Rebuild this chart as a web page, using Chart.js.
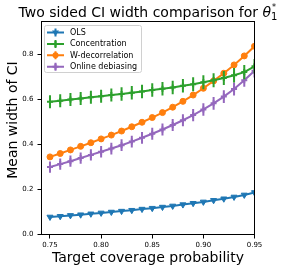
<!DOCTYPE html>
<html>
<head>
<meta charset="utf-8">
<script src="https://cdn.jsdelivr.net/npm/chart.js@4.4.0/dist/chart.umd.min.js"></script>
<style>
  html, body { margin: 0; padding: 0; background: #fff; }
  #wrap { width: 291px; height: 271px; }
</style>
</head>
<body>
<div id="wrap"><canvas id="chart" width="291" height="271"></canvas></div>
<script>
// target coverage levels (x axis)
const coverage = [0.75, 0.76, 0.77, 0.78, 0.79, 0.80, 0.81, 0.82, 0.83, 0.84, 0.85,
                  0.86, 0.87, 0.88, 0.89, 0.90, 0.91, 0.92, 0.93, 0.94, 0.95];

// mean CI widths
const olsWidth    = [0.078, 0.081, 0.085, 0.088, 0.092, 0.096, 0.100, 0.104, 0.108, 0.113, 0.117,
                     0.122, 0.127, 0.133, 0.139, 0.145, 0.152, 0.159, 0.167, 0.176, 0.187];
const concWidth   = [0.590, 0.595, 0.600, 0.605, 0.610, 0.615, 0.620, 0.625, 0.630, 0.636, 0.642,
                     0.648, 0.654, 0.661, 0.668, 0.677, 0.686, 0.696, 0.708, 0.722, 0.748];
const wdecWidth   = [0.345, 0.360, 0.376, 0.392, 0.408, 0.425, 0.442, 0.460, 0.479, 0.499, 0.520,
                     0.542, 0.566, 0.592, 0.620, 0.650, 0.683, 0.717, 0.754, 0.794, 0.837];
const onlineWidth = [0.300, 0.313, 0.326, 0.340, 0.354, 0.368, 0.382, 0.397, 0.413, 0.430, 0.448,
                     0.467, 0.487, 0.508, 0.531, 0.556, 0.583, 0.613, 0.647, 0.686, 0.728];

// half lengths of the error bars
const olsErr    = [0.004, 0.004, 0.004, 0.004, 0.004, 0.004, 0.004, 0.004, 0.004, 0.004, 0.005,
                   0.005, 0.005, 0.005, 0.005, 0.005, 0.005, 0.006, 0.006, 0.006, 0.006];
const concErr   = [0.029, 0.029, 0.029, 0.029, 0.029, 0.029, 0.029, 0.030, 0.030, 0.030, 0.030,
                   0.030, 0.030, 0.030, 0.031, 0.031, 0.031, 0.031, 0.032, 0.032, 0.032];
const wdecErr   = [0.005, 0.005, 0.005, 0.005, 0.005, 0.005, 0.005, 0.005, 0.005, 0.006, 0.006,
                   0.006, 0.006, 0.006, 0.006, 0.006, 0.006, 0.007, 0.007, 0.007, 0.007];
const onlineErr = [0.025, 0.025, 0.025, 0.025, 0.025, 0.026, 0.026, 0.026, 0.026, 0.026, 0.027,
                   0.027, 0.027, 0.027, 0.027, 0.028, 0.028, 0.028, 0.029, 0.029, 0.030];

const seriesNames = ["OLS", "Concentration", "W-decorrelation", "Online debiasing"];
const xTicks = [0.75, 0.80, 0.85, 0.90, 0.95];
const yTicks = [0.0, 0.2, 0.4, 0.6, 0.8];

const FONT = '"DejaVu Sans", "Liberation Sans", sans-serif';

const pts = arr => coverage.map((x, i) => ({ x: x, y: arr[i] }));

// draws vertical error bars under each dataset
const errorBars = {
  id: "errorBars",
  beforeDatasetDraw(chart, args) {
    const ds = chart.data.datasets[args.index];
    if (!ds.errors) return;
    const { ctx, chartArea: a, scales: { x, y } } = chart;
    ctx.save();
    ctx.beginPath();
    ctx.rect(a.left, a.top, a.right - a.left, a.bottom - a.top);
    ctx.clip();
    ctx.strokeStyle = ds.borderColor;
    ctx.lineWidth = 2;
    ds.data.forEach((p, i) => {
      const px = x.getPixelForValue(p.x);
      ctx.beginPath();
      ctx.moveTo(px, y.getPixelForValue(p.y - ds.errors[i]));
      ctx.lineTo(px, y.getPixelForValue(p.y + ds.errors[i]));
      ctx.stroke();
    });
    ctx.restore();
  }
};

function marker(ctx, kind, x, y, color) {
  ctx.save();
  ctx.fillStyle = color;
  ctx.strokeStyle = color;
  ctx.beginPath();
  if (kind === "tri") {
    ctx.moveTo(x - 3.5, y - 2);
    ctx.lineTo(x + 3.5, y - 2);
    ctx.lineTo(x, y + 3.5);
    ctx.closePath();
    ctx.fill();
  } else if (kind === "circle") {
    ctx.arc(x, y, 3, 0, Math.PI * 2);
    ctx.fill();
  } else {
    ctx.lineWidth = 2;
    ctx.moveTo(x - 3, y); ctx.lineTo(x + 3, y);
    ctx.moveTo(x, y - 3); ctx.lineTo(x, y + 3);
    ctx.stroke();
  }
  ctx.restore();
}

// frame, legend, y label and title
const decor = {
  id: "decor",
  afterDatasetsDraw(chart) {
    const { ctx, chartArea: a } = chart;
    ctx.save();
    ctx.strokeStyle = "#000";
    ctx.lineWidth = 1;
    ctx.strokeRect(a.left, a.top, a.right - a.left, a.bottom - a.top);

    // legend box
    const bx = 44.5, by = 25.5, bw = 97, bh = 47, r = 2;
    ctx.beginPath();
    ctx.moveTo(bx + r, by);
    ctx.arcTo(bx + bw, by, bx + bw, by + bh, r);
    ctx.arcTo(bx + bw, by + bh, bx, by + bh, r);
    ctx.arcTo(bx, by + bh, bx, by, r);
    ctx.arcTo(bx, by, bx + bw, by, r);
    ctx.closePath();
    ctx.fillStyle = "rgba(255,255,255,0.8)";
    ctx.fill();
    ctx.strokeStyle = "#d0d0d0";
    ctx.stroke();

    const kinds = ["tri", "cross", "circle", "cross"];
    chart.data.datasets.forEach((ds, i) => {
      const ry = 32.5 + i * 11.4;
      ctx.strokeStyle = ds.borderColor;
      ctx.lineWidth = 2;
      ctx.beginPath();
      ctx.moveTo(47, ry); ctx.lineTo(64, ry);
      ctx.moveTo(55.5, ry - 4); ctx.lineTo(55.5, ry + 4);
      ctx.stroke();
      marker(ctx, kinds[i], 55.5, ry, ds.borderColor);
      ctx.fillStyle = "#000";
      ctx.font = "8px " + FONT;
      ctx.textBaseline = "middle";
      ctx.textAlign = "left";
      ctx.fillText(ds.label, 70, ry + 0.5);
    });

    // y axis label
    ctx.save();
    ctx.translate(13, 120);
    ctx.rotate(-Math.PI / 2);
    ctx.fillStyle = "#000";
    ctx.font = "14px " + FONT;
    ctx.textAlign = "center";
    ctx.textBaseline = "middle";
    ctx.fillText("Mean width of CI", 0, 0);
    ctx.restore();

    // title with theta_1^*
    const main = "Two sided CI width comparison for ";
    const cx = (a.left + a.right) / 2, base = 17;
    ctx.font = "14px " + FONT;
    const w1 = ctx.measureText(main).width;
    ctx.font = "italic 14px " + FONT;
    const wt = ctx.measureText("\u03b8").width;
    ctx.font = "10px " + FONT;
    const ws = ctx.measureText("1").width;
    let sx = cx - (w1 + wt + ws) / 2;
    ctx.fillStyle = "#000";
    ctx.textAlign = "left";
    ctx.textBaseline = "alphabetic";
    ctx.font = "14px " + FONT;
    ctx.fillText(main, sx, base);
    sx += w1;
    ctx.font = "italic 14px " + FONT;
    ctx.fillText("\u03b8", sx, base);
    sx += wt;
    ctx.font = "10px " + FONT;
    ctx.fillText("1", sx, base + 3);
    ctx.font = "8px " + FONT;
    ctx.fillText("*", sx + 1, base - 7);
    ctx.restore();
  }
};

new Chart(document.getElementById("chart"), {
  type: "line",
  data: {
    datasets: [
      { label: seriesNames[0], data: pts(olsWidth), errors: olsErr,
        borderColor: "#1f77b4", backgroundColor: "#1f77b4",
        pointStyle: "triangle", rotation: 180, pointRadius: 3.5, pointBorderWidth: 1 },
      { label: seriesNames[1], data: pts(concWidth), errors: concErr,
        borderColor: "#2ca02c", backgroundColor: "#2ca02c",
        pointStyle: "cross", pointRadius: 3, pointBorderWidth: 2 },
      { label: seriesNames[2], data: pts(wdecWidth), errors: wdecErr,
        borderColor: "#ff7f0e", backgroundColor: "#ff7f0e",
        pointStyle: "circle", pointRadius: 3, pointBorderWidth: 1 },
      { label: seriesNames[3], data: pts(onlineWidth), errors: onlineErr,
        borderColor: "#9467bd", backgroundColor: "#9467bd",
        pointStyle: "cross", pointRadius: 3, pointBorderWidth: 2 }
    ]
  },
  options: {
    responsive: false,
    animation: false,
    datasets: { line: { borderWidth: 2, tension: 0, fill: false } },
    layout: { padding: { top: 21.5, right: 36.5, left: 0, bottom: 0 } },
    plugins: { legend: { display: false }, tooltip: { enabled: false } },
    scales: {
      x: {
        type: "linear", min: 0.7417, max: 0.95,
        afterBuildTicks: s => { s.ticks = xTicks.map(v => ({ value: v })); },
        afterFit: s => { s.height = 36.5; s.paddingLeft = 0; s.paddingRight = 0; },
        border: { display: false },
        grid: { drawOnChartArea: false, drawTicks: true, tickLength: 4, color: "#000" },
        ticks: { color: "#000", padding: 2, maxRotation: 0, autoSkip: false,
                 font: { family: FONT, size: 7 }, callback: v => v.toFixed(2) },
        title: { display: true, text: "Target coverage probability", color: "#000",
                 font: { family: FONT, size: 14 }, padding: { top: 0, bottom: 4 } }
      },
      y: {
        type: "linear", min: 0, max: 0.947,
        afterBuildTicks: s => { s.ticks = yTicks.map(v => ({ value: v })); },
        afterFit: s => { s.width = 41.5; s.paddingTop = 0; s.paddingBottom = 0; },
        border: { display: false },
        grid: { drawOnChartArea: false, drawTicks: true, tickLength: 4, color: "#000" },
        ticks: { color: "#000", padding: 4, autoSkip: false,
                 font: { family: FONT, size: 7 }, callback: v => v.toFixed(1) }
      }
    }
  },
  plugins: [errorBars, decor]
});
</script>
</body>
</html>
